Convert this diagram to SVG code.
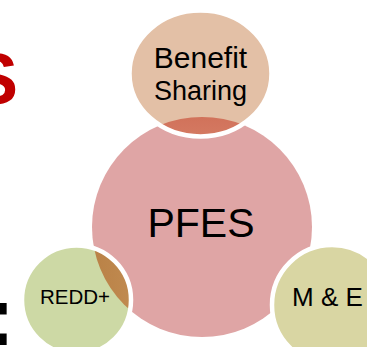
<svg xmlns="http://www.w3.org/2000/svg" width="367" height="347" viewBox="0 0 367 347">
  <defs>
    <style>
      .lbl { font-family: "Liberation Sans", Arial, sans-serif; fill: #000; text-anchor: middle; }
      .ring { fill: none; stroke: #fff; stroke-width: 4.5; }
    </style>
    <clipPath id="clip-core">
      <circle cx="202" cy="227" r="110"/>
    </clipPath>
    <linearGradient id="cap-top" x1="0" y1="0" x2="0" y2="1">
      <stop offset="0" stop-color="#cf6a55"/>
      <stop offset="0.4" stop-color="#c95a44"/>
      <stop offset="1" stop-color="#d47a62"/>
    </linearGradient>
    <linearGradient id="cap-left" x1="0" y1="0" x2="1" y2="0">
      <stop offset="0" stop-color="#d8b07a"/>
      <stop offset="0.35" stop-color="#b47a3e"/>
      <stop offset="1" stop-color="#c08a50"/>
    </linearGradient>
  </defs>

  <!-- fragments of the slide title cut off at the left edge -->
  <text x="-30" y="104" font-family="Liberation Sans, Arial, sans-serif" font-weight="bold" font-size="72" fill="#c00000">S</text>
  <text x="-13" y="345" font-family="Liberation Sans, Arial, sans-serif" font-weight="bold" font-size="83" fill="#000">:</text>

  <!-- central circle -->
  <g id="node-pfes">
    <circle cx="202" cy="227" r="110" fill="#dfa5a5"/>
    <text class="lbl" x="201" y="237" font-size="41">PFES</text>
  </g>

  <!-- top circle -->
  <g id="node-benefit">
    <ellipse cx="200.5" cy="73.5" rx="71" ry="63" fill="#e3c0a6"/>
    <ellipse cx="200.5" cy="73.5" rx="71" ry="63" fill="url(#cap-top)" clip-path="url(#clip-core)"/>
    <ellipse class="ring" cx="200.5" cy="73.5" rx="71" ry="63"/>
    <text class="lbl" x="200.5" y="68" font-size="30">Benefit</text>
    <text class="lbl" x="200.5" y="100" font-size="27">Sharing</text>
  </g>

  <!-- lower left circle -->
  <g id="node-redd">
    <circle cx="76.5" cy="300" r="54.5" fill="#cdd9a5"/>
    <circle cx="76.5" cy="300" r="54.5" fill="url(#cap-left)" clip-path="url(#clip-core)"/>
    <circle class="ring" cx="76.5" cy="300" r="54.5"/>
    <text class="lbl" x="75" y="304" font-size="20.5">REDD+</text>
  </g>

  <!-- lower right circle -->
  <g id="node-me">
    <circle cx="332" cy="305" r="60" fill="#d9d6a3"/>
    <circle class="ring" cx="332" cy="305" r="60"/>
    <text class="lbl" x="327.5" y="306" font-size="26">M &amp; E</text>
  </g>
</svg>
